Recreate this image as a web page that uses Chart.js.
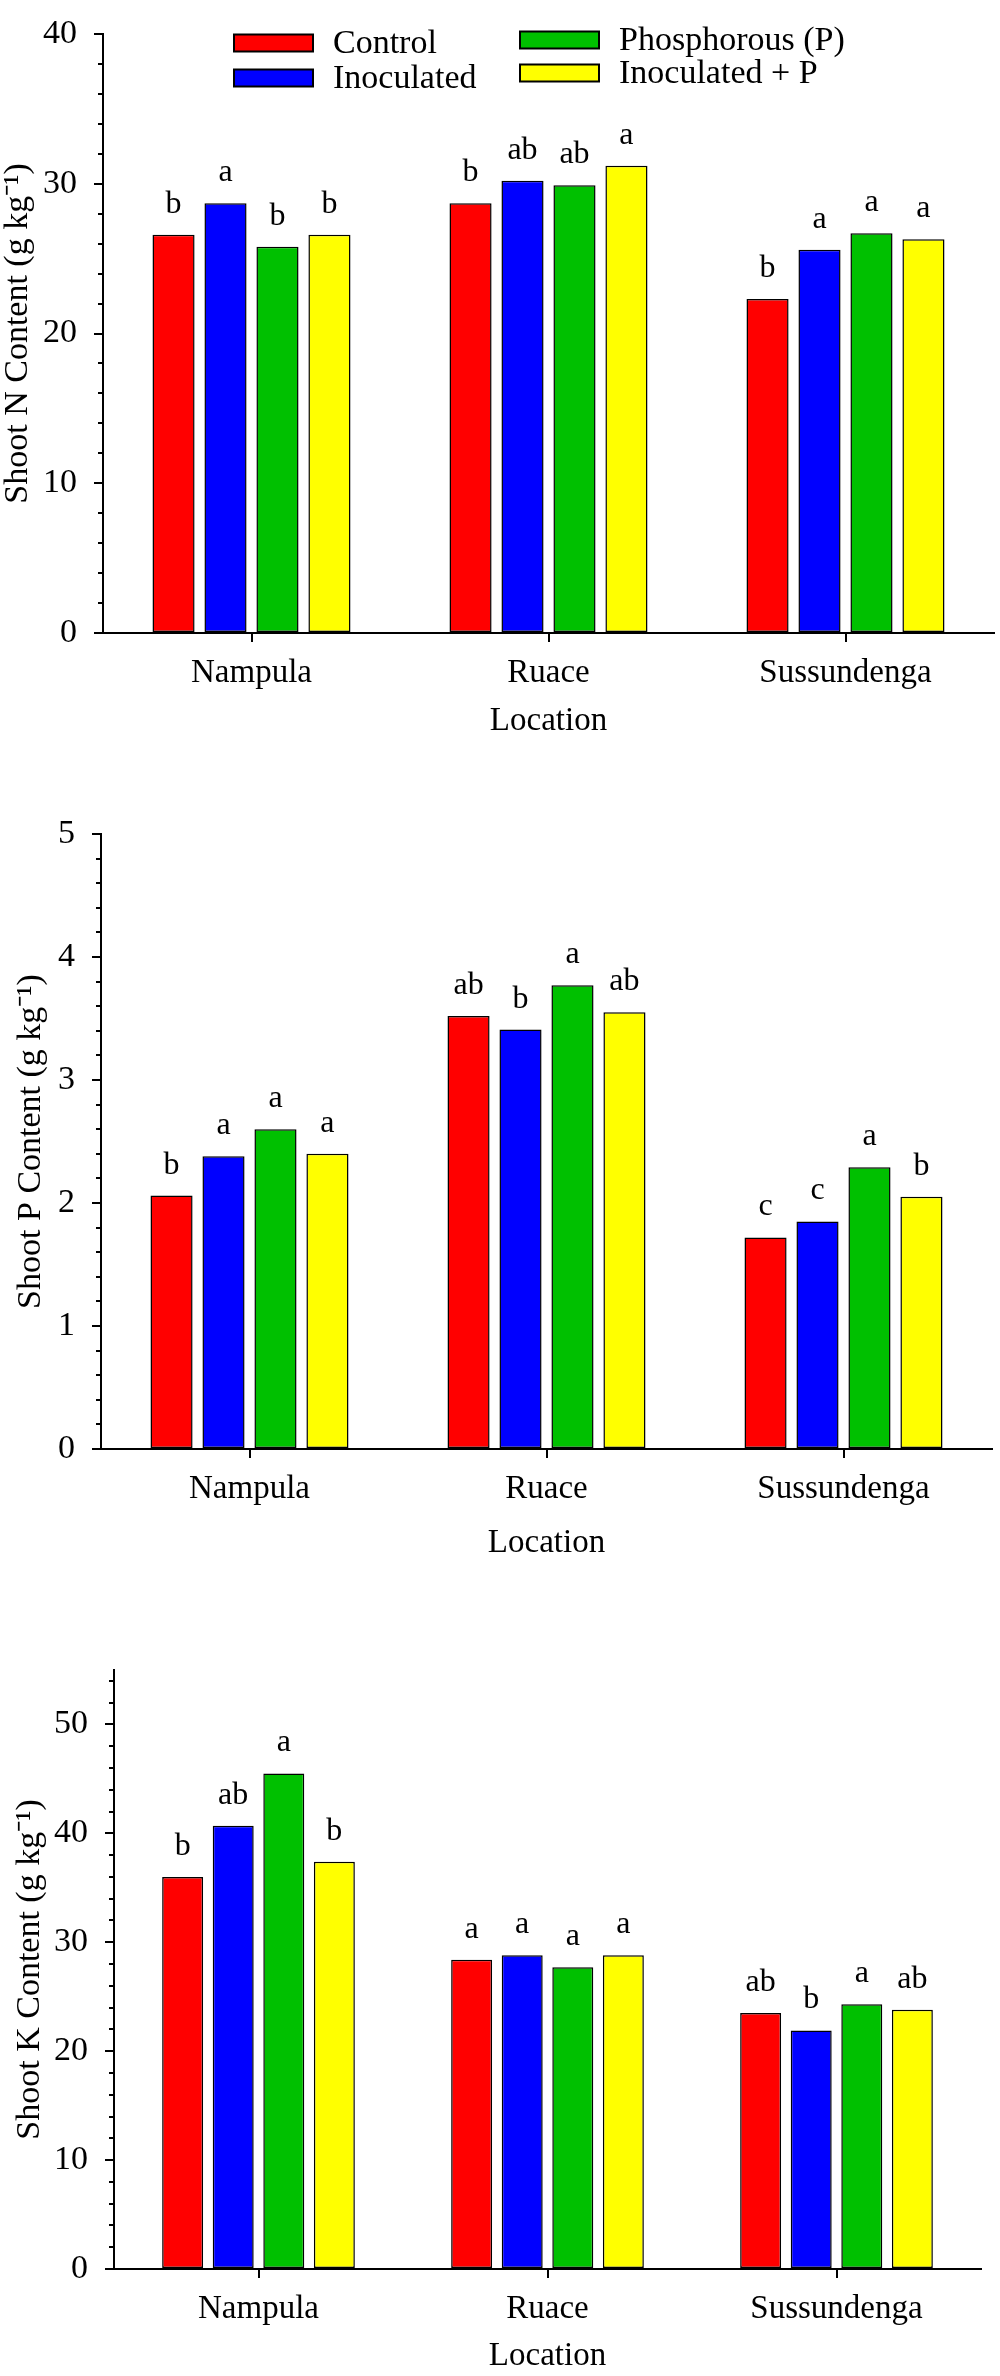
<!DOCTYPE html>
<html>
<head>
<meta charset="utf-8">
<script src="https://cdn.jsdelivr.net/npm/chart.js@4.4.1/dist/chart.umd.min.js"></script>
<style>
    body { margin: 0; background: #fff; width: 1000px; height: 2376px; position: relative; overflow: hidden; }
    .panel { position: absolute; left: 0; width: 1000px; }
</style>
</head>
<body>
<div class="panel" style="top:0px"><canvas id="nChart" width="1000" height="741"></canvas></div>
<div class="panel" style="top:780px"><canvas id="pChart" width="1000" height="783"></canvas></div>
<div class="panel" style="top:1600px"><canvas id="kChart" width="1000" height="776"></canvas></div>
<script>
const locations = ['Nampula', 'Ruace', 'Sussundenga'];
const treatments = ['Control', 'Inoculated', 'Phosphorous (P)', 'Inoculated + P'];
const colors = ['#ff0000', '#0000ff', '#00c000', '#ffff00'];

// Shoot N content (g kg-1)
const nControl = [26.6, 28.7, 22.3];
const nInoc = [28.7, 30.2, 25.6];
const nPhos = [25.8, 29.9, 26.7];
const nInocP = [26.6, 31.2, 26.3];
const nLetters = [['b', 'b', 'b'], ['a', 'ab', 'a'], ['b', 'ab', 'a'], ['b', 'a', 'a']];

// Shoot P content (g kg-1)
const pControl = [2.06, 3.52, 1.72];
const pInoc = [2.38, 3.41, 1.85];
const pPhos = [2.60, 3.77, 2.29];
const pInocP = [2.40, 3.55, 2.05];
const pLetters = [['b', 'ab', 'c'], ['a', 'b', 'c'], ['a', 'a', 'a'], ['a', 'ab', 'b']];

// Shoot K content (g kg-1)
const kControl = [36.0, 28.4, 23.5];
const kInoc = [40.7, 28.8, 21.9];
const kPhos = [45.5, 27.7, 24.3];
const kInocP = [37.4, 28.8, 23.8];
const kLetters = [['b', 'a', 'ab'], ['ab', 'a', 'b'], ['a', 'a', 'a'], ['b', 'a', 'ab']];

const serif = "'Liberation Serif', 'Times New Roman', serif";
Chart.defaults.font.family = serif;
Chart.defaults.color = '#000';

// letters of significance above each bar
const barLetters = {
    id: 'barLetters',
    afterDatasetsDraw(chart, args, opts) {
        const ctx = chart.ctx;
        ctx.save();
        ctx.font = '32px ' + serif;
        ctx.fillStyle = '#000';
        ctx.textAlign = 'center';
        ctx.textBaseline = 'alphabetic';
        chart.data.datasets.forEach((ds, i) => {
            chart.getDatasetMeta(i).data.forEach((bar, j) => {
                ctx.fillText(opts.letters[i][j], bar.x, bar.y - 22);
            });
        });
        ctx.restore();
    }
};

// short minor ticks on the y axis
const minorTicks = {
    id: 'minorTicks',
    afterDraw(chart, args, opts) {
        const y = chart.scales.y;
        const ctx = chart.ctx;
        const x = y.right;
        ctx.save();
        ctx.strokeStyle = '#000';
        ctx.lineWidth = 2;
        const n = Math.floor(y.max / opts.step + 1e-6);
        for (let i = 1; i <= n; i++) {
            const v = i * opts.step;
            const r = v / opts.major;
            if (Math.abs(r - Math.round(r)) < 1e-6) continue;
            const py = Math.round(y.getPixelForValue(v));
            ctx.beginPath();
            ctx.moveTo(x - 5, py);
            ctx.lineTo(x, py);
            ctx.stroke();
        }
        ctx.restore();
    }
};

// two-column legend inside the first panel
const boxLegend = {
    id: 'boxLegend',
    afterDraw(chart, args, opts) {
        if (!opts.spots) return;
        const ctx = chart.ctx;
        ctx.save();
        ctx.font = '34px ' + serif;
        ctx.textBaseline = 'middle';
        ctx.textAlign = 'left';
        chart.data.datasets.forEach((ds, i) => {
            const [bx, by] = opts.spots[i];
            ctx.fillStyle = ds.backgroundColor;
            ctx.fillRect(bx, by - 8.5, 79, 17);
            ctx.strokeStyle = '#000';
            ctx.lineWidth = 2;
            ctx.strokeRect(bx, by - 8.5, 79, 17);
            ctx.fillStyle = '#000';
            ctx.fillText(ds.label, bx + 99, by + 1);
        });
        ctx.restore();
    }
};

function makeChart(id, series, letters, cfg) {
    return new Chart(document.getElementById(id), {
        type: 'bar',
        data: {
            labels: locations,
            datasets: series.map((vals, i) => ({
                label: treatments[i],
                data: vals,
                backgroundColor: colors[i],
                borderColor: '#000',
                borderWidth: 1.5,
                borderSkipped: false,
                barPercentage: 0.81,
                categoryPercentage: 0.70
            }))
        },
        options: {
            responsive: false,
            animation: false,
            layout: { padding: { top: cfg.padTop, right: cfg.padRight, left: 0, bottom: 0 } },
            plugins: {
                legend: { display: false },
                tooltip: { enabled: false },
                barLetters: { letters: letters },
                minorTicks: { step: cfg.minor, major: cfg.major },
                boxLegend: { spots: cfg.legendSpots }
            },
            scales: {
                x: {
                    afterFit(scale) { scale.height = cfg.xHeight; },
                    grid: { display: true, drawOnChartArea: false, offset: false, tickLength: 9, color: '#000', lineWidth: 2 },
                    border: { display: true, color: '#000', width: 2 },
                    ticks: { font: { size: 33 }, padding: 12 },
                    title: { display: true, text: 'Location', font: { size: 33 }, padding: 0 }
                },
                y: {
                    min: 0,
                    max: cfg.yMax,
                    afterFit(scale) { scale.width = cfg.yWidth; },
                    grid: { display: true, drawOnChartArea: false, tickLength: 9, color: '#000', lineWidth: 2 },
                    border: { display: true, color: '#000', width: 2 },
                    ticks: { stepSize: cfg.major, includeBounds: false, font: { size: 34, lineHeight: 1 }, padding: 17 },
                    title: { display: true, text: cfg.title, font: { size: 34, lineHeight: 1 }, padding: { top: cfg.titlePad, bottom: 0 } }
                }
            }
        },
        plugins: [barLetters, minorTicks, boxLegend]
    });
}

makeChart('nChart', [nControl, nInoc, nPhos, nInocP], nLetters, {
    yMax: 40, major: 10, minor: 2, title: 'Shoot N Content (g kg\u207B\u00B9)',
    padTop: 17, padRight: 6, yWidth: 103, xHeight: 108, titlePad: 1,
    legendSpots: [[234, 43], [234, 78], [520, 40], [520, 73]]
});

makeChart('pChart', [pControl, pInoc, pPhos, pInocP], pLetters, {
    yMax: 5, major: 1, minor: 0.2, title: 'Shoot P Content (g kg\u207B\u00B9)',
    padTop: 54, padRight: 8, yWidth: 101, xHeight: 114, titlePad: 14
});

makeChart('kChart', [kControl, kInoc, kPhos, kInocP], kLetters, {
    yMax: 55, major: 10, minor: 2, title: 'Shoot K Content (g kg\u207B\u00B9)',
    padTop: 70, padRight: 19, yWidth: 114, xHeight: 107, titlePad: 13
});
</script>
</body>
</html>
